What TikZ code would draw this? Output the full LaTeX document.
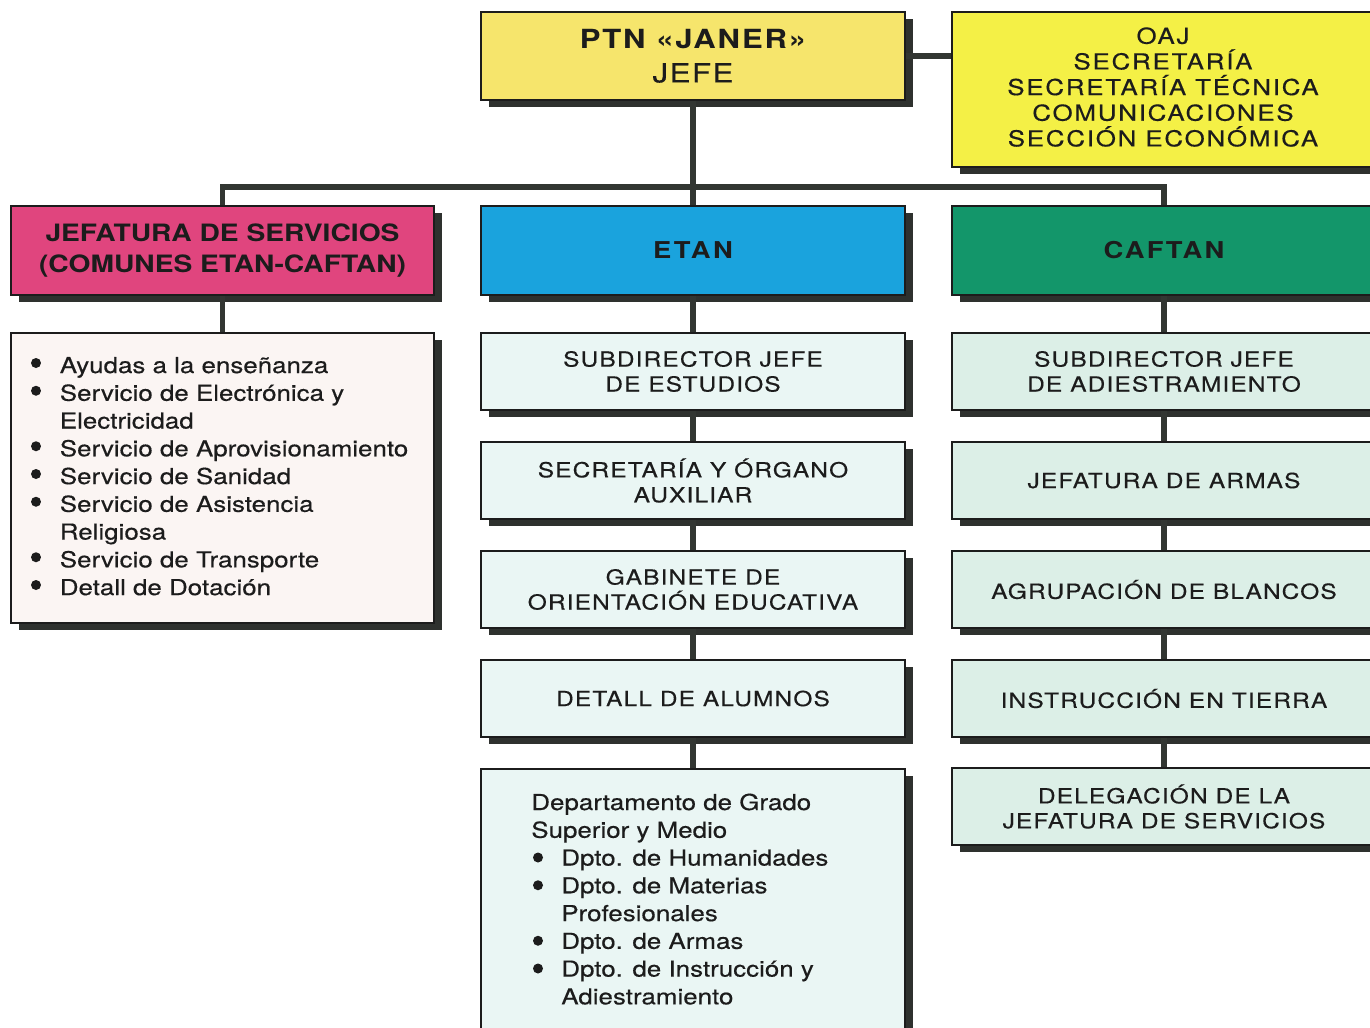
\documentclass[tikz,border=0pt]{standalone}
\usepackage{fontspec}
\setmainfont{TeX Gyre Heros}[FakeStretch=1.18, UprightFeatures={FakeBold=0.4}]
\usepackage{tikz}
\usetikzlibrary{shadows}

\definecolor{jefeyellow}{HTML}{F6E56C}
\definecolor{oajyellow}{HTML}{F4F046}
\definecolor{servpink}{HTML}{E0457E}
\definecolor{etanblue}{HTML}{1AA3DD}
\definecolor{caftangreen}{HTML}{13966A}
\definecolor{etanlight}{HTML}{EAF6F4}
\definecolor{caftanlight}{HTML}{DCEFE7}
\definecolor{servlight}{HTML}{FBF5F3}
\definecolor{linegray}{HTML}{323632}
\definecolor{shadowgray}{HTML}{2E312E}
\definecolor{inkdark}{HTML}{1C1C1C}

\begin{document}
\begin{tikzpicture}[x=0.02cm, y=-0.02cm,
    orgbox/.style={draw=inkdark, line width=0.8pt, text=inkdark, align=center, inner sep=0pt,
      drop shadow={shadow xshift=0.16cm, shadow yshift=-0.14cm, fill=shadowgray, opacity=1}},
    widebox/.style={orgbox, minimum width=8.48cm},
    headbox/.style={widebox, minimum height=1.78cm},
    subbox/.style={widebox, minimum height=1.54cm, font=\fontsize{11.8}{14.2}\selectfont\addfontfeature{LetterSpace=5.5}},
    conn/.style={draw=linegray, line width=3.4pt},
    listfont/.style={font=\fontsize{12.5}{15.8}\selectfont, text=inkdark, inner sep=0pt},
    dot/.style={fill=inkdark}]
    \useasboundingbox (0,0) rectangle (1370,1028);
    \clip (0,0) rectangle (1370,1028);

    % top level
    \node[headbox, fill=jefeyellow, minimum height=1.76cm, font=\fontsize{15}{19.3}\selectfont] (jefe) at (693,56)
      {{\bfseries\addfontfeature{LetterSpace=7}PTN «JANER»}\\{\addfontfeature{LetterSpace=6}JEFE}};
    \node[widebox, fill=oajyellow, minimum height=3.1cm] (oaj) at (1164,89.5) {};
    \node[font=\fontsize{12.5}{14.6}\selectfont\addfontfeature{LetterSpace=8}, text=inkdark, align=center, inner sep=0pt, anchor=north] (oajtxt) at (1163,27)
      {OAJ\\SECRETARÍA\\SECRETARÍA TÉCNICA\\COMUNICACIONES\\SECCIÓN ECONÓMICA};

    % second level
    \node[headbox, minimum width=8.46cm, fill=servpink, font=\bfseries\fontsize{13.6}{17.6}\selectfont] (jserv) at (222.5,250.5)
      {JEFATURA DE SERVICIOS\\(COMUNES ETAN-CAFTAN)};
    \node[headbox, fill=etanblue, font=\bfseries\fontsize{13.2}{16}\selectfont\addfontfeature{LetterSpace=11}] (etan) at (693,250.5) {ETAN};
    \node[headbox, fill=caftangreen, font=\bfseries\fontsize{13.2}{16}\selectfont\addfontfeature{LetterSpace=10}] (caftan) at (1164,250.5) {CAFTAN};

    % servicios
    \node[orgbox, fill=servlight, minimum width=8.46cm, minimum height=5.8cm] (servbox) at (222.5,478) {};
    \node[listfont, anchor=base west] (servtxt) at (31,373)
      {\begin{tabular}[t]{@{}p{0.57cm}@{}l@{}}
        & Ayudas a la enseñanza\\
        & Servicio de Electrónica y\\
        & Electricidad\\
        & Servicio de Aprovisionamiento\\
        & Servicio de Sanidad\\
        & Servicio de Asistencia\\
        & Religiosa\\
        & Servicio de Transporte\\
        & Detall de Dotación
      \end{tabular}};
    \foreach \i in {0,1,3,4,5,7,8}
      \fill[dot] (36,{363+27.75*\i}) circle (0.1cm);

    % ETAN
    \node[subbox, fill=etanlight] (es1) at (693,371.5) {SUBDIRECTOR JEFE\\DE ESTUDIOS};
    \node[subbox, fill=etanlight] (es2) at (693,480.5) {SECRETARÍA Y ÓRGANO\\AUXILIAR};
    \node[subbox, fill=etanlight] (es3) at (693,589.5) {GABINETE DE\\ORIENTACIÓN EDUCATIVA};
    \node[subbox, fill=etanlight] (es4) at (693,698.5) {DETALL DE ALUMNOS};
    \node[widebox, fill=etanlight, minimum height=5.52cm] (es5) at (693,907) {};
    \node[listfont, anchor=base west] (es5txt) at (531,810)
      {\begin{tabular}[t]{@{}p{0.6cm}@{}l@{}}
        \multicolumn{2}{@{}l@{}}{Departamento de Grado}\\
        \multicolumn{2}{@{}l@{}}{Superior y Medio}\\
        & Dpto. de Humanidades\\
        & Dpto. de Materias\\
        & Profesionales\\
        & Dpto. de Armas\\
        & Dpto. de Instrucción y\\
        & Adiestramiento
      \end{tabular}};
    \foreach \i in {2,3,5,6}
      \fill[dot] (538,{802+27.75*\i}) circle (0.1cm);

    % CAFTAN
    \node[subbox, fill=caftanlight] (cf1) at (1164,371.5) {SUBDIRECTOR JEFE\\DE ADIESTRAMIENTO};
    \node[subbox, fill=caftanlight] (cf2) at (1164,480.5) {JEFATURA DE ARMAS};
    \node[subbox, fill=caftanlight] (cf3) at (1164,589.5) {AGRUPACIÓN DE BLANCOS};
    \node[subbox, fill=caftanlight] (cf4) at (1164,698.5) {INSTRUCCIÓN EN TIERRA};
    \node[subbox, fill=caftanlight] (cf5) at (1164,806.5) {DELEGACIÓN DE LA\\JEFATURA DE SERVICIOS};

    % connectors
    \coordinate (bus) at (693,187);
    \draw[conn] (jefe.east) -- (oaj.west |- jefe.east);
    \draw[conn] (jefe.south) -- (etan.north);
    \draw[conn] (jserv.north) |- (bus) -| (caftan.north);
    \draw[conn] (jserv.south) -- (servbox.north);
    \foreach \a/\b in {etan/es1, es1/es2, es2/es3, es3/es4, es4/es5,
                       caftan/cf1, cf1/cf2, cf2/cf3, cf3/cf4, cf4/cf5}
      \draw[conn] (\a.south) -- (\b.north);
\end{tikzpicture}
\end{document}
